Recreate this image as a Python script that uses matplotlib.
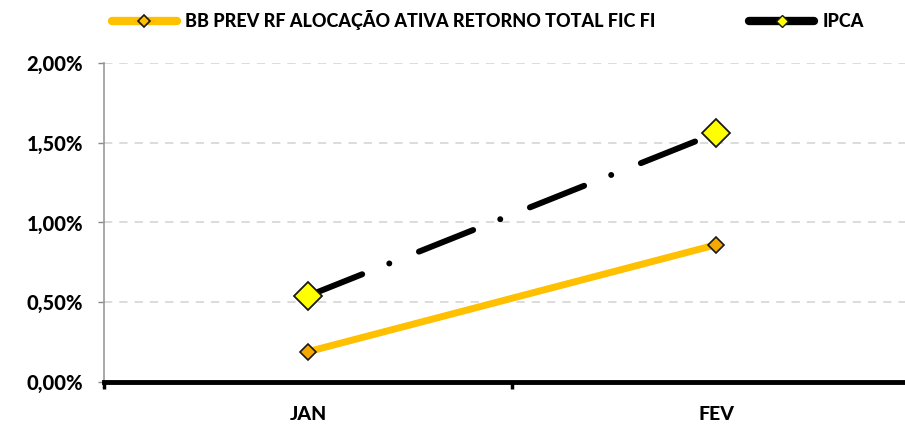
import matplotlib
matplotlib.use("Agg")
import matplotlib.pyplot as plt
from matplotlib.lines import Line2D
from matplotlib.ticker import FuncFormatter

categories = ["JAN", "FEV"]
fund_name = "BB PREV RF ALOCAÇÃO ATIVA RETORNO TOTAL FIC FI"
fund_values = [0.19, 0.86]
ipca_name = "IPCA"
ipca_values = [0.54, 1.56]
y_ticks = [0.0, 0.5, 1.0, 1.5, 2.0]

plt.rcParams['font.family'] = ['Lato', 'DejaVu Sans']
plt.rcParams['font.weight'] = 'black'
plt.rcParams['lines.scale_dashes'] = False

fig = plt.figure(figsize=(9.05, 4.26), dpi=100)
ax = fig.add_axes([104/905, 1-382/426, (920-104)/905, (382-63)/426])

x = list(range(len(categories)))

ax.plot(x, fund_values, color="#FFC000", lw=5, solid_capstyle='butt',
        marker='D', markersize=8, markerfacecolor="#F5A800",
        markeredgecolor="#1a1a1a", markeredgewidth=1.2, zorder=3)
ln, = ax.plot(x, ipca_values, color="black", lw=4.3, dash_capstyle='round',
              marker='D', markersize=14, markerfacecolor="#FFFF00",
              markeredgecolor="#1a1a1a", markeredgewidth=1.3, zorder=3)
ln.set_dashes((42, 21, 0.01, 23))

ax.set_xlim(-0.5, 1.5)
ax.set_ylim(0, 2.0)
ax.set_yticks(y_ticks)
ax.yaxis.set_major_formatter(FuncFormatter(lambda v, p: f"{v:.2f}%".replace('.', ',')))
ax.grid(axis='y', color='#d9d9d9', linestyle=(0, (6, 5)), lw=1.3)
ax.set_axisbelow(True)

ax.set_xticks(x)
ax.set_xticklabels(categories)
ax.set_xticks([-0.5, 0.5], minor=True)
ax.tick_params(axis='x', which='major', length=0, pad=17, labelsize=14)
ax.tick_params(axis='x', which='minor', length=5, width=2.5, color='black', direction='out')
ax.tick_params(axis='y', length=4, width=1, color='#888888', labelsize=14.5, pad=11)

for s in ['top', 'right']:
    ax.spines[s].set_visible(False)
ax.spines['left'].set_color('#999999')
ax.spines['left'].set_linewidth(1.2)
ax.spines['bottom'].set_color('black')
ax.spines['bottom'].set_linewidth(3.5)
ax.spines['bottom'].set_zorder(4)

h1 = Line2D([], [], color="#FFC000", lw=6, solid_capstyle='round', marker='D',
            markersize=6, markerfacecolor="#FFC000", markeredgecolor="#1a1a1a", markeredgewidth=1.2)
h2 = Line2D([], [], color="black", lw=6, solid_capstyle='round', marker='D',
            markersize=6, markerfacecolor="#FFFF00", markeredgecolor="#1a1a1a", markeredgewidth=1.0)
leg = fig.legend([h1, h2], [fund_name, ipca_name], loc='center', bbox_to_anchor=(0.539, 1-20/426),
                 ncol=2, frameon=False, handlelength=3.6, handletextpad=0.45,
                 columnspacing=5.2, prop={'weight': 'black', 'size': 13})

fig.savefig("out.png", dpi=100)
